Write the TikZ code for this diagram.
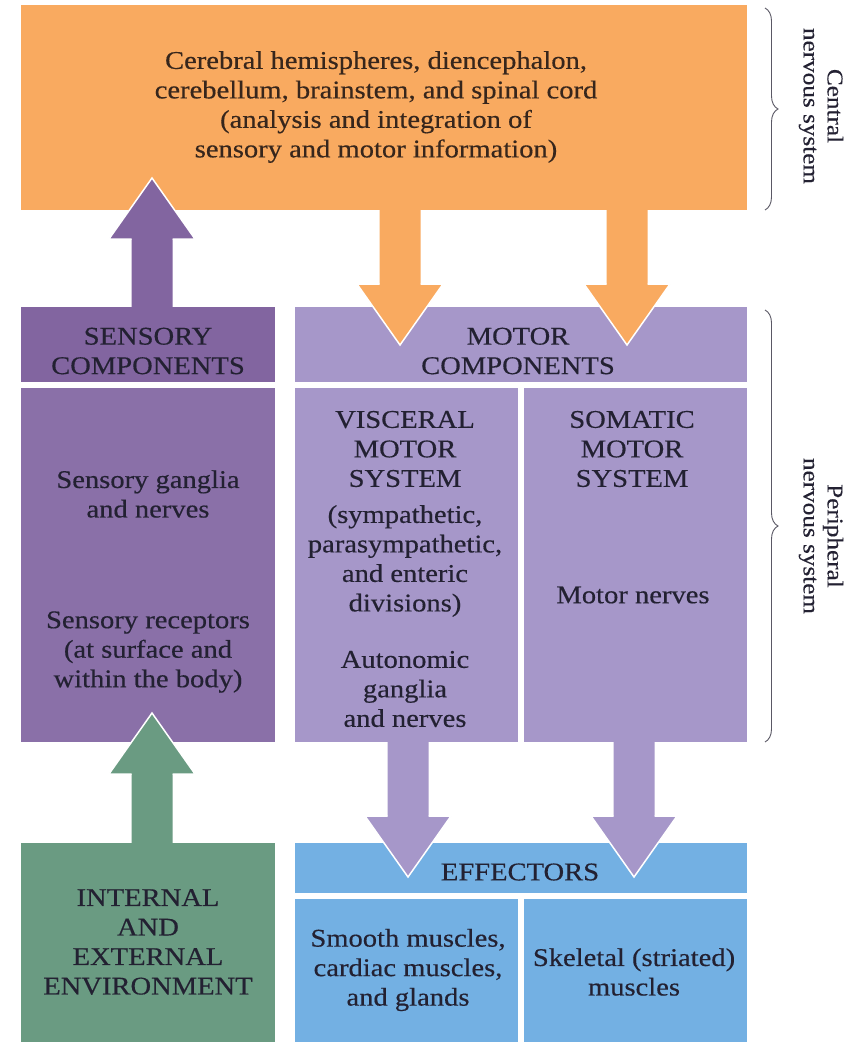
\documentclass[tikz,border=0pt]{standalone}
\usepackage{fontspec}
\setmainfont[FakeStretch=1.12,FakeBold=0.4]{Liberation Serif}
\usetikzlibrary{calc,decorations.pathreplacing}
\definecolor{cnsorange}{RGB}{249,170,96}
\definecolor{sensdark}{RGB}{130,101,160}
\definecolor{sensbody}{RGB}{138,112,168}
\definecolor{motorpurple}{RGB}{166,151,201}
\definecolor{effblue}{RGB}{115,176,227}
\definecolor{envgreen}{RGB}{106,155,130}
\definecolor{txtdark}{RGB}{35,33,50}
\definecolor{txtbrown}{RGB}{55,38,28}
\newcommand\blockarrow[3]{%
  \fill[#1] let \p1=(#2), \p2=(#3), \n1={ifthenelse(\y2>\y1,1,-1)} in
    (\x1-20.5pt,\y1) -- (\x1-20.5pt,{\y2-(\n1)*61pt}) -- (\x1-43pt,{\y2-(\n1)*61pt})
    -- (\x2,\y2) -- (\x1+43pt,{\y2-(\n1)*61pt}) -- (\x1+20.5pt,{\y2-(\n1)*61pt})
    -- (\x1+20.5pt,\y1) -- cycle;
  \draw[white,line width=1.5pt,line join=miter] let \p1=(#2), \p2=(#3), \n1={ifthenelse(\y2>\y1,1,-1)} in
    (\x1-20.5pt,{\y2-(\n1)*61pt}) -- (\x1-43pt,{\y2-(\n1)*61pt})
    -- (\x2,\y2) -- (\x1+43pt,{\y2-(\n1)*61pt}) -- (\x1+20.5pt,{\y2-(\n1)*61pt});
}
\begin{document}
\begin{tikzpicture}[x=1pt,y=-1pt,
  box/.style={rectangle,inner sep=0pt,outer sep=0pt,anchor=north west},
  lbl/.style={align=center,inner sep=0pt,text=txtdark,font=\fontsize{25.5}{29.5}\selectfont},
  side/.style={align=center,inner sep=0pt,text=txtdark,rotate=-90,font=\fontsize{22.5}{24}\selectfont},
  bracestyle/.style={draw=txtdark!75,line width=0.9pt,decorate,decoration={brace,amplitude=13pt}}]
\useasboundingbox[fill=white] (0,0) rectangle (858,1042);
% boxes
\node[box,fill=cnsorange,minimum width=726pt,minimum height=205pt] (cns) at (21,5) {};
\node[box,fill=sensdark,minimum width=254pt,minimum height=75pt] (sensh) at (21,307) {};
\node[box,fill=sensbody,minimum width=254pt,minimum height=354pt] (sensb) at (21,388) {};
\node[box,fill=motorpurple,minimum width=452pt,minimum height=75pt] (motorh) at (295,307) {};
\node[box,fill=motorpurple,minimum width=223pt,minimum height=354pt] (visc) at (295,388) {};
\node[box,fill=motorpurple,minimum width=223pt,minimum height=354pt] (soma) at (524,388) {};
\node[box,fill=effblue,minimum width=452pt,minimum height=50pt] (effh) at (295,843) {};
\node[box,fill=effblue,minimum width=223pt,minimum height=143pt] (smooth) at (295,899) {};
\node[box,fill=effblue,minimum width=223pt,minimum height=143pt] (skel) at (524,899) {};
\node[box,fill=envgreen,minimum width=254pt,minimum height=199pt] (env) at (21,843) {};
% arrow end points
\coordinate (a1s) at ([xshift=4pt]sensh.north);
\coordinate (a1t) at ($(cns.south -| a1s)+(0,-32)$);
\coordinate (a2s) at ($(cns.south)+(16,0)$);
\coordinate (a2t) at ($(motorh.north -| a2s)+(0,38)$);
\coordinate (a3s) at ($(cns.south)+(243,0)$);
\coordinate (a3t) at ($(motorh.north -| a3s)+(0,38)$);
\coordinate (a4s) at ([xshift=1.5pt]visc.south);
\coordinate (a4t) at ($(effh.north -| a4s)+(0,34)$);
\coordinate (a5s) at ([xshift=-1.5pt]soma.south);
\coordinate (a5t) at ($(effh.north -| a5s)+(0,34)$);
\coordinate (a6s) at ([xshift=4pt]env.north);
\coordinate (a6t) at ($(sensb.south -| a6s)+(0,-29)$);
\blockarrow{sensdark}{a1s}{a1t}
\blockarrow{cnsorange}{a2s}{a2t}
\blockarrow{cnsorange}{a3s}{a3t}
\blockarrow{motorpurple}{a4s}{a4t}
\blockarrow{motorpurple}{a5s}{a5t}
\blockarrow{envgreen}{a6s}{a6t}
% texts
\node[lbl,text=txtbrown] (tcns) at (376,107) {Cerebral hemispheres, diencephalon,\\cerebellum, brainstem, and spinal cord\\(analysis and integration of\\sensory and motor information)};
\node[lbl] (tsensh) at (148,351) {SENSORY\\COMPONENTS};
\node[lbl] (tmotorh) at (518,351) {MOTOR\\COMPONENTS};
\node[lbl] (tsg) at (148,494) {Sensory ganglia\\and nerves};
\node[lbl] (tsr) at (148,652) {Sensory receptors\\(at surface and\\within the body)};
\node[lbl] (tvms) at (405,449) {VISCERAL\\MOTOR\\SYSTEM};
\node[lbl] (tdiv) at (405,561) {(sympathetic,\\parasympathetic,\\and enteric\\divisions)};
\node[lbl] (tag) at (405,689) {Autonomic\\ganglia\\and nerves};
\node[lbl] (tsms) at (632,449) {SOMATIC\\MOTOR\\SYSTEM};
\node[lbl] (tmn) at (633,595) {Motor nerves};
\node[lbl] (teff) at (520,872) {EFFECTORS};
\node[lbl] (tenv) at (148,942) {INTERNAL\\AND\\EXTERNAL\\ENVIRONMENT};
\node[lbl] (tsm) at (408,970) {Smooth muscles,\\cardiac muscles,\\and glands};
\node[lbl] (tsk) at (634,972) {Skeletal (striated)\\muscles};
% braces
\draw[bracestyle] (765,8) -- (765,210);
\draw[bracestyle] (765,310) -- (765,742);
\node[side] (tcentral) at (821,106) {Central\\nervous system};
\node[side] (tperiph) at (821,536) {Peripheral\\nervous system};
\end{tikzpicture}
\end{document}
